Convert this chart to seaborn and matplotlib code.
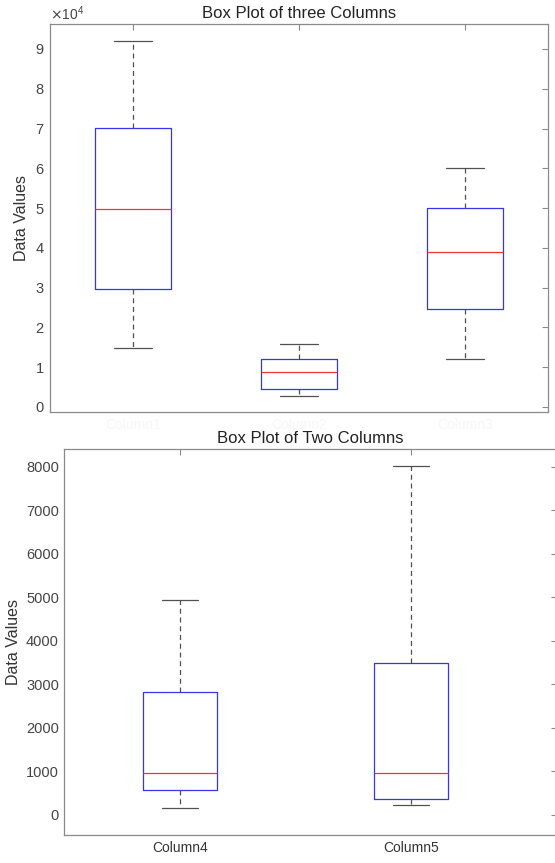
import numpy as np
import pandas as pd
import matplotlib
matplotlib.use("Agg")
import matplotlib.pyplot as plt
import seaborn as sns

# Box statistics: [lower whisker, Q1, median, Q3, upper whisker]
top_columns = ["Column1", "Column2", "Column3"]
col1 = [14800, 29700, 49800, 70200, 92000]
col2 = [2800, 4450, 8700, 12150, 15900]
col3 = [12000, 24600, 38950, 50000, 60100]

bottom_columns = ["Column4", "Column5"]
col4 = [170, 575, 970, 2830, 4950]
col5 = [230, 370, 955, 3490, 8030]

sns.set_theme(style="white")
plt.rcParams["font.family"] = ["Liberation Sans", "DejaVu Sans"]

df_top = pd.DataFrame({
    "Column": np.repeat(top_columns, 5),
    "Value": col1 + col2 + col3,
})
df_bot = pd.DataFrame({
    "Column": np.repeat(bottom_columns, 5),
    "Value": col4 + col5,
})

fig = plt.figure(figsize=(5.55, 8.63), dpi=100)
ax1 = fig.add_axes([0.090, 0.5226, 0.897, 0.4496])
ax2 = fig.add_axes([0.1162, 0.0325, 0.8874, 0.4473])

spine_col = "#8a8a8a"
box_kw = dict(
    fill=False,
    whis=np.inf,
    linewidth=0.9,
    boxprops=dict(color="#3535f0", linewidth=0.9),
    medianprops=dict(color="#ff3030", linewidth=0.9),
    whiskerprops=dict(color="#505050", linestyle=(0, (4, 3)), linewidth=0.9),
    capprops=dict(color="#505050", linewidth=0.9),
)

sns.boxplot(data=df_top, x="Column", y="Value", order=top_columns,
            width=0.46, ax=ax1, **box_kw)
sns.boxplot(data=df_bot, x="Column", y="Value", order=bottom_columns,
            width=0.32, ax=ax2, **box_kw)

# top panel
ax1.set_xlim(-0.5, 2.5)
ax1.set_ylim(-1260, 96280)
ax1.set_yticks(np.arange(0, 90001, 10000))
ax1.ticklabel_format(axis="y", style="sci", scilimits=(0, 0), useMathText=True)
ax1.yaxis.get_offset_text().set_fontsize(10)
ax1.yaxis.get_offset_text().set_color("#555555")
ax1.set_title("Box Plot of three Columns", fontsize=12, color="#222222", pad=4)
ax1.set_ylabel("Data Values", fontsize=11.5, color="#333333")
ax1.set_xlabel("")
ax1.set_xticks(range(3))
ax1.set_xticklabels(top_columns, color="#f7f7f7", fontsize=10)

# bottom panel
ax2.set_xlim(-0.5, -0.5 + (557 - 64.5) / 231)
ax2.set_ylim(-460, 8414)
ax2.set_yticks(np.arange(0, 8001, 1000))
ax2.set_title("Box Plot of Two Columns", fontsize=12, color="#222222", pad=4)
ax2.set_ylabel("Data Values", fontsize=11.5, color="#333333")
ax2.set_xlabel("")
ax2.set_xticks(range(2))
ax2.set_xticklabels(bottom_columns, fontsize=10, color="#333333")

for ax in (ax1, ax2):
    ax.tick_params(direction="in", top=True, right=True, length=4,
                   width=0.8, color=spine_col, labelsize=10, pad=4)
    ax.tick_params(axis="y", labelcolor="#444444", labelsize=10.5)
    for s in ax.spines.values():
        s.set_color(spine_col)
        s.set_linewidth(0.9)

fig.savefig("out.png", dpi=100)
